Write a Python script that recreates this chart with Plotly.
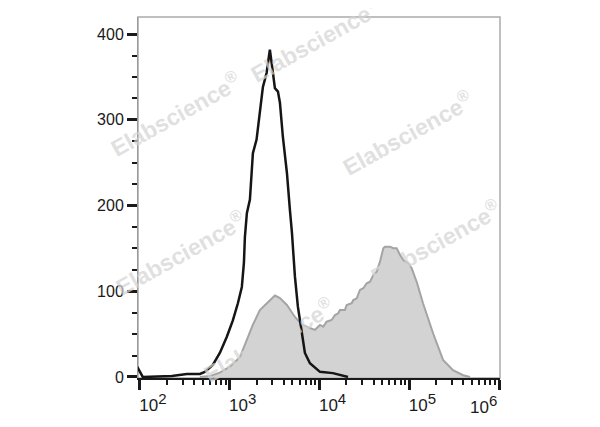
import plotly.graph_objects as go

# ---- data (log10 of fluorescence intensity, event counts) ----
control_log10 = [1.975, 1.978, 2.033, 2.357, 2.524, 2.669, 2.724, 2.813, 2.891, 2.969,
                 3.036, 3.092, 3.136, 3.159, 3.170, 3.192, 3.226, 3.248, 3.259, 3.300,
                 3.337, 3.370, 3.412, 3.448, 3.482, 3.504, 3.538, 3.560, 3.593, 3.638,
                 3.671, 3.694, 3.727, 3.760, 3.805, 3.838, 3.894, 4.006, 4.150, 4.262,
                 4.318]
control_counts = [12, 10.5, 0, 1, 3.5, 3.5, 6, 14, 28, 47,
                  66, 86, 105, 133, 163, 191, 207, 238, 261, 277,
                  308, 338, 355, 382, 355, 337, 333, 320, 280, 238,
                  195, 168, 117, 82, 51, 28, 16, 6, 4.5, 2,
                  0]

stained_log10 = [2.669, 2.780, 2.891, 3.003, 3.114, 3.192, 3.259, 3.337, 3.448, 3.504,
                 3.560, 3.638, 3.727, 3.805, 3.872, 3.950, 4.006, 4.042, 4.080, 4.136,
                 4.173, 4.209, 4.228, 4.284, 4.303, 4.359, 4.377, 4.415, 4.451, 4.488,
                 4.526, 4.563, 4.600, 4.637, 4.674, 4.711, 4.730, 4.786, 4.822, 4.860,
                 4.897, 4.934, 4.989, 5.027, 5.086, 5.153, 5.265, 5.376, 5.487, 5.599,
                 5.677]
stained_counts = [0, 1, 5, 12, 23, 43, 61, 78, 90, 95,
                  92, 84, 70, 61, 58, 55, 60.7, 58.7, 64.5, 66.5,
                  72.3, 74.3, 78.2, 78.2, 84, 86, 89.8, 91.8, 101.5, 103.5,
                  109.3, 111.2, 119, 122.9, 134.5, 150.2, 152, 152, 150.2, 150.2,
                  142.4, 136.5, 132.7, 126.8, 110, 86, 51, 20, 8, 2,
                  0]

x_tick_exponents = [2, 3, 4, 5, 6]
y_tick_values = [0, 100, 200, 300, 400]

watermark_text = "Elabscience<sup>®</sup>"
# watermark centres in pixel coordinates of the picture (page)
watermark_px = [(175, 114), (315, 40), (407, 133), (435, 242), (180, 253), (268, 340)]

# ---- figure ----
OFF = 8  # page body margin
W, H = 600, 427
L, R, T, B = 138 - OFF, 100 + OFF, 17 - OFF, 49 + OFF
pw, ph = W - L - R, H - T - B

stained_x = [10 ** v for v in stained_log10]
control_x = [10 ** v for v in control_log10]

fig = go.Figure()
fig.add_trace(go.Scatter(
    x=stained_x, y=stained_counts, mode="lines",
    line=dict(color="#a4a4a4", width=2),
    fill="tozeroy", fillcolor="#d3d3d3", hoverinfo="skip", showlegend=False))
fig.add_trace(go.Scatter(
    x=control_x, y=control_counts, mode="lines",
    line=dict(color="#151515", width=2.5),
    hoverinfo="skip", showlegend=False))

font_family = "Liberation Sans, Arial, sans-serif"
label_fmt = "10<sup><span style='font-size:15px'>%d</span></sup>"
ticktext = [label_fmt % e for e in x_tick_exponents[:-1]] + [""]
minor_x = [d * 10 ** k for k in range(1, 6) for d in range(2, 10)]

fig.update_xaxes(
    type="log", range=[1.98, 6.01],
    tickmode="array", tickvals=[10 ** e for e in x_tick_exponents], ticktext=ticktext,
    ticks="outside", ticklen=10, tickwidth=3, tickcolor="#1a1a1a",
    ticklabelposition="outside right", ticklabelstandoff=11, ticklabelshift=-3,
    tickfont=dict(family=font_family, size=17, color="#1a1a1a"),
    minor=dict(tickmode="array", tickvals=minor_x, ticks="outside", ticklen=5,
               tickwidth=2, tickcolor="#1a1a1a"),
    showline=True, linecolor="#1a1a1a", linewidth=2,
    showgrid=False, zeroline=False)

fig.update_yaxes(
    range=[-1.2, 420],
    tickmode="array", tickvals=y_tick_values,
    ticks="outside", ticklen=10, tickwidth=3, tickcolor="#1a1a1a",
    tickfont=dict(family=font_family, size=16, color="#1a1a1a"),
    minor=dict(dtick=25, ticks="outside", ticklen=5, tickwidth=2, tickcolor="#1a1a1a"),
    showline=True, linecolor="#999999", linewidth=1,
    showgrid=False, zeroline=False)

annotations = []
for (px, py) in watermark_px:
    annotations.append(dict(
        xref="paper", yref="paper",
        x=(px - OFF - L) / pw, y=(H - B - (py - OFF)) / ph,
        text=watermark_text, showarrow=False, textangle=-29,
        xanchor="center", yanchor="middle",
        font=dict(family=font_family, size=23, color="rgba(212,212,212,0.72)", weight="bold")))

# last decade label kept inside the frame, right-aligned to its tick
annotations.append(dict(
    xref="x", yref="paper", x=x_tick_exponents[-1], y=0,
    text=label_fmt % x_tick_exponents[-1], showarrow=False,
    xanchor="right", yanchor="top", yshift=-12,
    font=dict(family=font_family, size=17, color="#1a1a1a")))

fig.update_layout(
    width=W, height=H,
    margin=dict(l=L, r=R, t=T, b=B),
    paper_bgcolor="white", plot_bgcolor="white",
    annotations=annotations,
    shapes=[dict(type="rect", xref="paper", yref="paper", x0=0, x1=1, y0=0, y1=1,
                 line=dict(color="#aaaaaa", width=1.5), layer="below")])

fig.write_html("out.html")
